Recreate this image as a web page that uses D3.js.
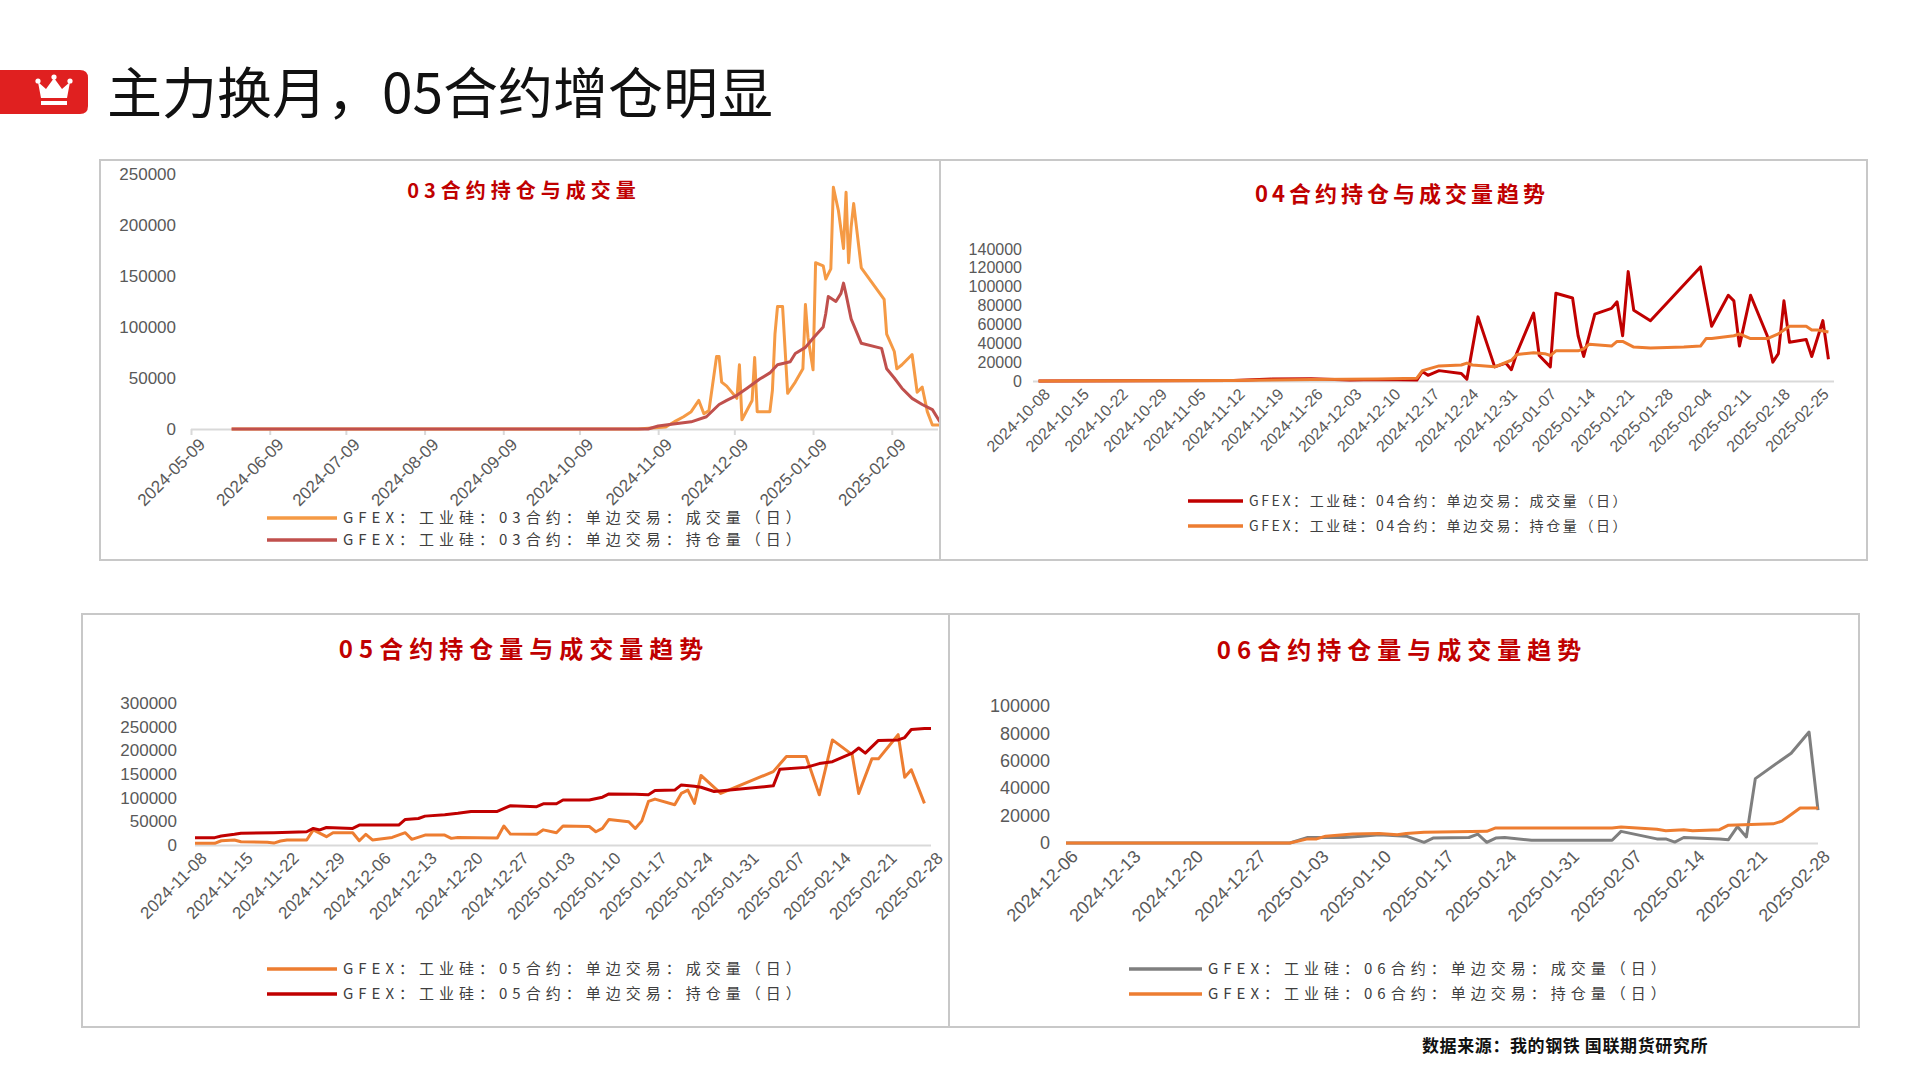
<!DOCTYPE html>
<html lang="zh">
<head>
<meta charset="UTF-8">
<title>主力换月，05合约增仓明显</title>
<script src="https://cdnjs.cloudflare.com/ajax/libs/d3/7.8.5/d3.min.js"></script>
<style>
  body { margin: 0; background: #fff; }
  svg { display: block; font-family: "Noto Sans CJK SC", "Noto Sans", sans-serif; }
  .tick text { fill: #595959; }
</style>
</head>
<body>
<svg id="chart" width="1920" height="1080"></svg>
<script>
// ---- 03合约 ----
const vol03Dates = ["2024-05-25","2024-11-01","2024-11-12","2024-11-16","2024-11-19","2024-11-22","2024-11-25","2024-11-27","2024-11-29","2024-12-02","2024-12-03","2024-12-04","2024-12-06","2024-12-10","2024-12-11","2024-12-12","2024-12-16","2024-12-17","2024-12-18","2024-12-23","2024-12-24","2024-12-25","2024-12-26","2024-12-28","2024-12-30","2025-01-02","2025-01-05","2025-01-06","2025-01-07","2025-01-09","2025-01-10","2025-01-13","2025-01-14","2025-01-16","2025-01-17","2025-01-19","2025-01-21","2025-01-22","2025-01-23","2025-01-24","2025-01-25","2025-01-28","2025-02-06","2025-02-07","2025-02-10","2025-02-11","2025-02-13","2025-02-17","2025-02-19","2025-02-21","2025-02-23","2025-02-25","2025-02-28"];
const vol03 = [0,0,2000,8000,12000,17000,28000,15000,18000,71000,71000,46000,42000,30000,63000,9000,28000,70000,17000,17000,38000,93000,120000,120000,35000,46000,59000,122000,90000,58000,163000,160000,147000,157000,237000,214000,177000,232000,163000,198000,221000,158000,127000,93000,76000,59000,63000,73000,36000,41000,17000,4000,4000];
const oi03Dates = ["2024-05-25","2024-11-05","2024-11-09","2024-11-15","2024-11-22","2024-11-28","2024-12-03","2024-12-06","2024-12-10","2024-12-14","2024-12-19","2024-12-23","2024-12-26","2024-12-31","2025-01-02","2025-01-06","2025-01-09","2025-01-13","2025-01-14","2025-01-15","2025-01-18","2025-01-20","2025-01-21","2025-01-22","2025-01-24","2025-01-28","2025-02-05","2025-02-07","2025-02-10","2025-02-13","2025-02-17","2025-02-21","2025-02-25","2025-02-28"];
const oi03 = [0,0,3000,5000,7000,12000,24000,28000,33000,40000,49000,55000,63000,66000,74000,80000,89000,100000,113000,130000,125000,133000,143000,132000,108000,84000,79000,59000,50000,40000,30000,24000,19000,7000];
const ticks03 = ["2024-05-09","2024-06-09","2024-07-09","2024-08-09","2024-09-09","2024-10-09","2024-11-09","2024-12-09","2025-01-09","2025-02-09"];

// ---- 04合约 ----
const vol04Dates = ["2024-10-08","2024-11-12","2024-11-19","2024-11-26","2024-12-03","2024-12-08","2024-12-15","2024-12-16","2024-12-17","2024-12-19","2024-12-23","2024-12-24","2024-12-26","2024-12-29","2024-12-31","2025-01-01","2025-01-02","2025-01-05","2025-01-06","2025-01-08","2025-01-09","2025-01-12","2025-01-13","2025-01-14","2025-01-16","2025-01-19","2025-01-20","2025-01-21","2025-01-22","2025-01-23","2025-01-26","2025-02-04","2025-02-06","2025-02-09","2025-02-10","2025-02-11","2025-02-13","2025-02-16","2025-02-17","2025-02-18","2025-02-19","2025-02-20","2025-02-23","2025-02-24","2025-02-26","2025-02-27"];
const vol04 = [0,500,2000,2500,1000,1500,1000,10000,6000,11000,8000,2000,68000,15000,19000,12000,30000,72000,27000,15000,93000,88000,48000,26000,71000,77000,84000,48000,116000,75000,64000,121000,58000,91000,85000,37000,91000,48000,20000,29000,85000,41000,44000,26000,64000,23000];
const oi04Dates = ["2024-10-08","2024-11-12","2024-11-26","2024-12-08","2024-12-15","2024-12-16","2024-12-19","2024-12-23","2024-12-24","2024-12-25","2024-12-29","2025-01-01","2025-01-02","2025-01-05","2025-01-07","2025-01-08","2025-01-09","2025-01-13","2025-01-14","2025-01-15","2025-01-19","2025-01-20","2025-01-21","2025-01-23","2025-01-26","2025-02-01","2025-02-04","2025-02-05","2025-02-06","2025-02-10","2025-02-11","2025-02-13","2025-02-16","2025-02-18","2025-02-20","2025-02-23","2025-02-24","2025-02-25","2025-02-27"];
const oi04 = [0,500,1500,2000,3000,11000,16000,17000,19000,17000,15000,22000,28000,30000,29000,27000,32000,32000,34000,39000,37000,42000,42000,36000,35000,36000,37000,45000,45000,48000,50000,45000,45000,50000,58000,58000,54000,54000,52000];
const ticks04 = ["2024-10-08","2024-10-15","2024-10-22","2024-10-29","2024-11-05","2024-11-12","2024-11-19","2024-11-26","2024-12-03","2024-12-10","2024-12-17","2024-12-24","2024-12-31","2025-01-07","2025-01-14","2025-01-21","2025-01-28","2025-02-04","2025-02-11","2025-02-18","2025-02-25"];

// ---- 05合约 ----
const vol05Dates = ["2024-11-08","2024-11-11","2024-11-12","2024-11-14","2024-11-15","2024-11-19","2024-11-20","2024-11-21","2024-11-22","2024-11-25","2024-11-26","2024-11-28","2024-11-29","2024-12-02","2024-12-03","2024-12-04","2024-12-05","2024-12-08","2024-12-10","2024-12-11","2024-12-13","2024-12-16","2024-12-17","2024-12-18","2024-12-24","2024-12-25","2024-12-26","2024-12-30","2024-12-31","2025-01-02","2025-01-03","2025-01-07","2025-01-08","2025-01-09","2025-01-10","2025-01-13","2025-01-14","2025-01-15","2025-01-16","2025-01-17","2025-01-20","2025-01-21","2025-01-22","2025-01-23","2025-01-24","2025-01-27","2025-02-04","2025-02-06","2025-02-09","2025-02-11","2025-02-13","2025-02-16","2025-02-17","2025-02-19","2025-02-20","2025-02-23","2025-02-24","2025-02-25","2025-02-27"];
const vol05 = [3500,3500,9000,10600,7000,5600,4000,8500,10600,10600,32000,17600,26000,26000,9000,22600,10600,16000,26000,12000,21000,21000,14000,16000,15000,40000,23000,22600,32000,26000,40000,39000,28000,35000,54000,49000,35000,51000,92000,97000,85000,109000,116000,88000,147000,109000,155000,187000,187000,106000,222000,191000,109000,182000,182000,233000,143000,159000,88000];
const oi05Dates = ["2024-11-08","2024-11-11","2024-11-12","2024-11-14","2024-11-15","2024-11-20","2024-11-25","2024-11-26","2024-11-27","2024-11-28","2024-12-02","2024-12-03","2024-12-09","2024-12-10","2024-12-12","2024-12-13","2024-12-16","2024-12-18","2024-12-20","2024-12-24","2024-12-26","2024-12-30","2024-12-31","2025-01-02","2025-01-03","2025-01-07","2025-01-09","2025-01-10","2025-01-14","2025-01-16","2025-01-17","2025-01-20","2025-01-21","2025-01-23","2025-01-24","2025-01-26","2025-02-04","2025-02-05","2025-02-09","2025-02-11","2025-02-13","2025-02-16","2025-02-17","2025-02-18","2025-02-20","2025-02-23","2025-02-24","2025-02-25","2025-02-27","2025-02-28"];
const oi05 = [15500,15500,19000,22600,25000,26000,28000,35000,32000,37000,35000,42000,42000,54000,56000,61000,64000,67000,71000,71000,83000,81000,87000,87000,95000,95000,101000,108000,107000,106000,115000,116000,127000,124000,122000,113000,125000,160000,164000,172000,176000,194000,205000,194000,221000,222000,227000,244000,246000,246000];
const ticks05 = ["2024-11-08","2024-11-15","2024-11-22","2024-11-29","2024-12-06","2024-12-13","2024-12-20","2024-12-27","2025-01-03","2025-01-10","2025-01-17","2025-01-24","2025-01-31","2025-02-07","2025-02-14","2025-02-21","2025-02-28"];

// ---- 06合约 ----
const vol06Dates = ["2024-12-06","2024-12-31","2025-01-02","2025-01-03","2025-01-06","2025-01-08","2025-01-10","2025-01-13","2025-01-15","2025-01-16","2025-01-20","2025-01-21","2025-01-22","2025-01-23","2025-01-24","2025-01-27","2025-02-05","2025-02-06","2025-02-10","2025-02-11","2025-02-12","2025-02-13","2025-02-17","2025-02-18","2025-02-19","2025-02-20","2025-02-21","2025-02-24","2025-02-25","2025-02-27","2025-02-28"];
const vol06 = [0,0,4000,4000,4000,5000,6000,5000,500,3600,4000,6500,500,3600,4000,2000,2000,8500,3000,3000,700,4000,3000,2400,12000,4400,47000,61000,65500,81000,24000];
const oi06Dates = ["2024-12-06","2024-12-31","2025-01-02","2025-01-03","2025-01-04","2025-01-07","2025-01-10","2025-01-12","2025-01-13","2025-01-15","2025-01-22","2025-01-23","2025-02-05","2025-02-06","2025-02-10","2025-02-11","2025-02-13","2025-02-14","2025-02-17","2025-02-18","2025-02-23","2025-02-24","2025-02-26","2025-02-28"];
const oi06 = [0,0,3000,3000,5000,6500,7000,6000,7000,7800,8500,11000,11000,11600,10000,9000,9700,9000,9700,13000,14000,16000,25500,25500];
const ticks06 = ["2024-12-06","2024-12-13","2024-12-20","2024-12-27","2025-01-03","2025-01-10","2025-01-17","2025-01-24","2025-01-31","2025-02-07","2025-02-14","2025-02-21","2025-02-28"];

const parse = d3.timeParse("%Y-%m-%d");
const fmt = d3.timeFormat("%Y-%m-%d");
const svg = d3.select("#chart");

// header
const badge = svg.append("g");
badge.append("path").attr("d", "M0,70 H80 Q88,70 88,78 V106 Q88,114 80,114 H0 Z").attr("fill", "#e02020");
badge.append("path")
  .attr("d", "M41,98 L38,82 L46,89 L54,78 L62,89 L70,82 L67,98 Z")
  .attr("fill", "#fff");
badge.append("rect").attr("x", 41).attr("y", 101).attr("width", 26).attr("height", 4).attr("fill", "#fff");
[[38,81],[54,77],[70,81]].forEach(([cx, cy]) =>
  badge.append("circle").attr("cx", cx).attr("cy", cy).attr("r", 2.6).attr("fill", "#fff"));
svg.append("text").attr("x", 107).attr("y", 113)
  .attr("font-size", 55).attr("fill", "#111")
  .text("主力换月，05合约增仓明显");

svg.append("text").attr("x", 1422).attr("y", 1052)
  .attr("font-size", 17).attr("font-weight", 700).attr("letter-spacing", 0.6).attr("fill", "#111")
  .text("数据来源：我的钢铁  国联期货研究所");

function panel(cfg) {
  const g = svg.append("g");
  g.append("rect").attr("x", cfg.box[0]).attr("y", cfg.box[1])
    .attr("width", cfg.box[2] - cfg.box[0]).attr("height", cfg.box[3] - cfg.box[1])
    .attr("fill", "#fff").attr("stroke", "#c8c8c8").attr("stroke-width", 2);

  g.append("text").attr("x", cfg.titleX).attr("y", cfg.titleY)
    .attr("text-anchor", "middle").attr("font-size", cfg.titleSize)
    .attr("font-weight", 700).attr("letter-spacing", cfg.titleSpacing)
    .attr("fill", "#c00000").text(cfg.title);

  const x = d3.scaleTime().domain(cfg.xDomain.map(parse)).range(cfg.xRange);
  const y = d3.scaleLinear().domain([0, cfg.yMax]).range(cfg.yRange);

  const ya = g.append("g").attr("transform", `translate(${cfg.yLabelX},0)`)
    .call(d3.axisLeft(y).tickValues(d3.range(0, cfg.yMax + 1, cfg.yStep)).tickSize(0).tickPadding(0).tickFormat(d3.format("d")));
  ya.select(".domain").remove();
  ya.selectAll("text").attr("font-size", cfg.labelSize);

  const xa = g.append("g").attr("transform", `translate(0,${cfg.yRange[0]})`)
    .call(d3.axisBottom(x).tickValues(cfg.ticks.map(parse)).tickSize(cfg.tickSize).tickFormat(fmt));
  xa.select(".domain").attr("d", `M${cfg.xRange[0]},0.5H${Math.min(cfg.xRange[1], cfg.box[2] - 2)}`)
    .attr("stroke", "#d9d9d9").attr("stroke-width", 2);
  xa.selectAll(".tick line").attr("stroke", "#d9d9d9").attr("stroke-width", 2);
  xa.selectAll("text").attr("font-size", cfg.xLabelSize)
    .attr("text-anchor", "end").attr("dy", "0.35em")
    .attr("transform", `translate(${cfg.labelShift},${cfg.labelDrop}) rotate(-45)`);

  const clipId = "clip" + cfg.title.slice(0, 2);
  g.append("clipPath").attr("id", clipId).append("rect")
    .attr("x", cfg.box[0]).attr("y", cfg.box[1]).attr("width", cfg.box[2] - cfg.box[0] - 1).attr("height", cfg.box[3] - cfg.box[1]);
  const line = d3.line().x(d => x(d[0])).y(d => y(d[1]));
  cfg.series.forEach((s, i) => {
    const pts = s.dates.map((d, j) => [parse(d), s.values[j]]);
    g.append("path").datum(pts).attr("clip-path", `url(#${clipId})`)
      .attr("d", line).attr("fill", "none").attr("stroke", s.color)
      .attr("stroke-width", 3).attr("stroke-linejoin", "round");
    const ly = cfg.legendY + i * cfg.legendGap;
    g.append("line").attr("x1", cfg.legendX[0]).attr("x2", cfg.legendX[1])
      .attr("y1", ly).attr("y2", ly).attr("stroke", s.color).attr("stroke-width", 3.5);
    g.append("text").attr("x", cfg.legendX[1] + 6).attr("y", ly).attr("dy", "0.35em")
      .attr("font-size", cfg.legendSize).attr("letter-spacing", cfg.legendSpacing)
      .attr("fill", "#404040").text(s.name);
  });
}

const ORANGE = "#f59a45", ORANGE2 = "#ed7d31", DARKRED = "#c0504d", RED = "#c00000", GREY = "#7f7f7f";

panel({
  box: [100, 160, 940, 560], title: "03合约持仓与成交量", titleX: 524, titleY: 198, titleSize: 20, titleSpacing: 5,
  xDomain: ["2024-05-09", "2025-02-28"], xRange: [191, 940], yMax: 250000, yStep: 50000, yRange: [429, 174],
  yLabelX: 176, labelSize: 17, xLabelSize: 17, tickSize: 6, labelShift: 4, labelDrop: 6, ticks: ticks03,
  legendX: [267, 337], legendY: 518, legendGap: 22, legendSize: 15, legendSpacing: 5,
  series: [
    { name: "GFEX：工业硅：03合约：单边交易：成交量（日）", dates: vol03Dates, values: vol03, color: ORANGE },
    { name: "GFEX：工业硅：03合约：单边交易：持仓量（日）", dates: oi03Dates, values: oi03, color: DARKRED }
  ]
});

panel({
  box: [940, 160, 1867, 560], title: "04合约持仓与成交量趋势", titleX: 1402, titleY: 202, titleSize: 22, titleSpacing: 4,
  xDomain: ["2024-10-07", "2025-02-28"], xRange: [1033, 1834], yMax: 140000, yStep: 20000, yRange: [381, 249],
  yLabelX: 1022, labelSize: 16, xLabelSize: 16, tickSize: 0, labelShift: 6, labelDrop: 8, ticks: ticks04,
  legendX: [1188, 1243], legendY: 501, legendGap: 25, legendSize: 14, legendSpacing: 2.6,
  series: [
    { name: "GFEX：工业硅：04合约：单边交易：成交量（日）", dates: vol04Dates, values: vol04, color: RED },
    { name: "GFEX：工业硅：04合约：单边交易：持仓量（日）", dates: oi04Dates, values: oi04, color: ORANGE2 }
  ]
});

panel({
  box: [82, 614, 949, 1027], title: "05合约持仓量与成交量趋势", titleX: 524, titleY: 658, titleSize: 24, titleSpacing: 6,
  xDomain: ["2024-11-08", "2025-02-28"], xRange: [195, 931], yMax: 300000, yStep: 50000, yRange: [845, 703],
  yLabelX: 177, labelSize: 17, xLabelSize: 17, tickSize: 0, labelShift: 6, labelDrop: 8, ticks: ticks05,
  legendX: [267, 337], legendY: 969, legendGap: 25, legendSize: 15, legendSpacing: 5,
  series: [
    { name: "GFEX：工业硅：05合约：单边交易：成交量（日）", dates: vol05Dates, values: vol05, color: ORANGE2 },
    { name: "GFEX：工业硅：05合约：单边交易：持仓量（日）", dates: oi05Dates, values: oi05, color: RED }
  ]
});

panel({
  box: [949, 614, 1859, 1027], title: "06合约持仓量与成交量趋势", titleX: 1402, titleY: 659, titleSize: 24, titleSpacing: 6,
  xDomain: ["2024-12-06", "2025-02-28"], xRange: [1066, 1818], yMax: 100000, yStep: 20000, yRange: [843, 706],
  yLabelX: 1050, labelSize: 18, xLabelSize: 18, tickSize: 0, labelShift: 6, labelDrop: 8, ticks: ticks06,
  legendX: [1129, 1202], legendY: 969, legendGap: 25, legendSize: 15, legendSpacing: 5,
  series: [
    { name: "GFEX：工业硅：06合约：单边交易：成交量（日）", dates: vol06Dates, values: vol06, color: GREY },
    { name: "GFEX：工业硅：06合约：单边交易：持仓量（日）", dates: oi06Dates, values: oi06, color: ORANGE2 }
  ]
});
</script>
</body>
</html>
